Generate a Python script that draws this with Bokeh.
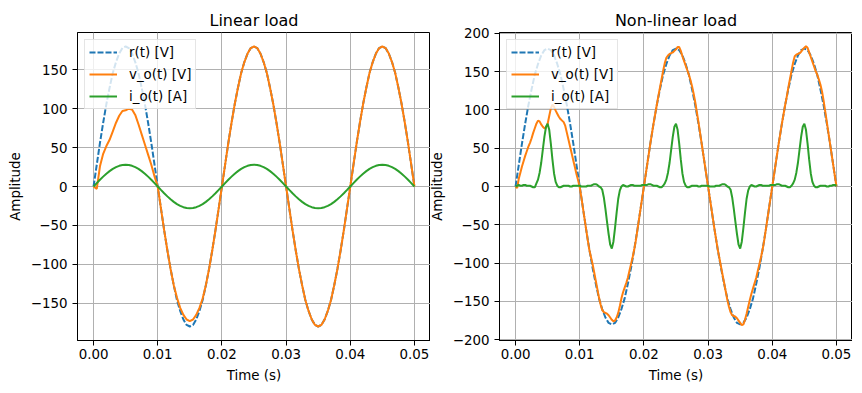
import numpy as np
from bokeh.plotting import figure
from bokeh.layouts import row
from bokeh.models import Range1d, FixedTicker
from bokeh.embed import file_html
from bokeh.resources import INLINE

# ---------------- data ----------------
t_coarse = np.linspace(0, 0.05, 101)   # sample grid, 0.5 ms
t_fine = np.linspace(0, 0.05, 201)     # sample grid, 0.25 ms

r_ref = [0, 28, 56, 82, 106, 127, 146, 160, 171, 178,
         180, 178, 171, 160, 146, 127, 106, 82, 56, 28,
         0, -28, -56, -82, -106, -127, -146, -160, -171, -178,
         -180, -178, -171, -160, -146, -127, -106, -82, -56, -28,
         0, 28, 56, 82, 106, 127, 146, 160, 171, 178,
         180, 178, 171, 160, 146, 127, 106, 82, 56, 28,
         0, -28, -56, -82, -106, -127, -146, -160, -171, -178,
         -180, -178, -171, -160, -146, -127, -106, -82, -56, -28,
         0, 28, 56, 82, 106, 127, 146, 160, 171, 178,
         180, 178, 171, 160, 146, 127, 106, 82, 56, 28,
         0]

vo_lin = [0, -3, 26, 42, 52, 60, 71, 82, 91, 97,
          98, 100, 99, 92, 80, 67, 54, 41, 28, 13,
          0, -28, -56, -82, -106, -127, -143, -156, -165, -171,
          -173, -171, -165, -156, -144, -127, -106, -82, -56, -28,
          0, 28, 56, 82, 106, 127, 146, 160, 171, 178,
          180, 178, 171, 160, 146, 127, 106, 82, 56, 28,
          0, -28, -56, -82, -106, -127, -146, -160, -171, -178,
          -180, -178, -171, -160, -146, -127, -106, -82, -56, -28,
          0, 28, 56, 82, 106, 127, 146, 160, 171, 178,
          180, 178, 171, 160, 146, 127, 106, 82, 56, 28,
          0]

io_lin = [0, 4.4, 8.7, 12.7, 16.5, 19.8, 22.7, 24.9, 26.6, 27.7,
          28, 27.7, 26.6, 24.9, 22.7, 19.8, 16.5, 12.7, 8.7, 4.4,
          0, -4.4, -8.7, -12.7, -16.5, -19.8, -22.7, -24.9, -26.6, -27.7,
          -28, -27.7, -26.6, -24.9, -22.7, -19.8, -16.5, -12.7, -8.7, -4.4,
          0, 4.4, 8.7, 12.7, 16.5, 19.8, 22.7, 24.9, 26.6, 27.7,
          28, 27.7, 26.6, 24.9, 22.7, 19.8, 16.5, 12.7, 8.7, 4.4,
          0, -4.4, -8.7, -12.7, -16.5, -19.8, -22.7, -24.9, -26.6, -27.7,
          -28, -27.7, -26.6, -24.9, -22.7, -19.8, -16.5, -12.7, -8.7, -4.4,
          0, 4.4, 8.7, 12.7, 16.5, 19.8, 22.7, 24.9, 26.6, 27.7,
          28, 27.7, 26.6, 24.9, 22.7, 19.8, 16.5, 12.7, 8.7, 4.4,
          0]

vo_nl = [0, -2, 10, 18, 26, 33, 40, 46, 52, 57,
         63, 70, 76, 82, 86, 85, 81, 78, 76, 77,
         82, 92, 102, 107, 104, 99, 95, 91, 88, 86,
         84, 79, 70, 61, 52, 43, 34, 25, 16, 8,
         -1, -14, -28, -42, -56, -70, -83, -92, -101, -112,
         -123, -134, -145, -154, -161, -164, -165, -166, -168, -171,
         -174, -176, -175, -171, -165, -156, -146, -138, -132, -126,
         -119, -110, -101, -92, -82, -70, -56, -42, -28, -14,
         0, 14, 28, 42, 56, 69, 82, 94, 106, 118,
         129, 140, 151, 161, 168, 171, 173, 174, 175, 177,
         179, 182, 182, 177, 170, 164, 158, 152, 146, 139,
         131, 121, 110, 97, 84, 70, 56, 42, 28, 14,
         0, -14, -28, -42, -56, -69, -82, -93, -104, -115,
         -126, -137, -148, -157, -164, -168, -169, -170, -172, -175,
         -178, -181, -180, -174, -166, -157, -148, -140, -133, -126,
         -119, -110, -101, -92, -82, -70, -56, -42, -28, -14,
         0, 14, 28, 42, 56, 69, 82, 94, 106, 117,
         129, 140, 151, 162, 170, 172, 173, 174, 176, 179,
         181, 183, 181, 175, 169, 163, 157, 151, 146, 140,
         133, 124, 112, 98, 84, 70, 56, 42, 28, 14,
         0]

io_nl = [0, 1, 2, 1, 1, 2, 2, 1, 1, 1, 0, -1, -1,
         4, 9, 18, 31, 48, 65, 78, 82, 74, 56, 35, 17, 6, 1, -1,
         -1, 0, 1, 1, 1, 1, 0, 0, 1, 1, 1, 1, 1, 0, 0, 0, 0, 1, 1, 1, 2, 3, 3, 2, 0, -1,
         -4, -14, -29, -46, -62, -76, -81, -72, -54, -34, -16, -5, 0,
         2, 1, 0, 0, 1, 2, 2, 1, 1, 1, 1, 1, 2, 2, 2, 2, 3, 3, 2, 1, 1, 1, 0, -1, -1, 1,
         4, 9, 18, 31, 48, 65, 78, 82, 74, 56, 35, 17, 6, 1, -1,
         -1, 0, 1, 1, 1, 1, 0, 0, 1, 1, 1, 1, 1, 0, 0, 0, 0, 1, 1, 1, 2, 3, 3, 2, 0, -1,
         -4, -14, -29, -46, -62, -76, -81, -72, -54, -34, -16, -5, 0,
         2, 1, 0, 0, 1, 2, 2, 1, 1, 1, 1, 1, 2, 2, 2, 2, 3, 3, 2, 1, 1, 1, 0, -1, -1, 1,
         4, 9, 18, 31, 48, 65, 78, 82, 74, 56, 35, 17, 6, 1, -1,
         -1, 0, 1, 1, 1, 1, 0, 0, 1, 1, 2, 2, 1]

titles = ["Linear load", "Non-linear load"]
legend_labels = ["r(t) [V]", "v_o(t) [V]", "i_o(t) [A]"]
x_ticks = [0.0, 0.01, 0.02, 0.03, 0.04, 0.05]
x_tick_labels = ["0.00", "0.01", "0.02", "0.03", "0.04", "0.05"]
y_ticks_lin = [-150, -100, -50, 0, 50, 100, 150]
y_ticks_nl = [-200, -150, -100, -50, 0, 50, 100, 150, 200]
x_label = "Time (s)"
y_label = "Amplitude"

# ---------------- styling ----------------
FONT = "DejaVu Sans"
TICK_SIZE = "13.4px"
COLORS = ["#1f77b4", "#ff7f0e", "#2ca02c"]


def ylabel_text(v):
    return ("\u2212" + str(abs(v))) if v < 0 else str(v)


def make_fig(title, y_ticks, y_range, series, border_left, border_right):
    p = figure(frame_width=353, frame_height=308, output_backend="svg", toolbar_location=None,
               x_range=Range1d(-0.0025, 0.0525), y_range=Range1d(*y_range),
               min_border_left=border_left, min_border_right=border_right,
               min_border_top=32, min_border_bottom=10)
    p.title.text = title
    p.title.text_font = FONT
    p.title.text_font_size = "16px"
    p.title.text_font_style = "normal"
    p.title.text_color = "black"
    p.title.align = "center"
    p.title.standoff = 6

    p.outline_line_color = "black"
    p.outline_line_width = 1
    p.outline_line_alpha = 1
    p.background_fill_color = "white"
    p.border_fill_color = "white"

    p.xaxis.ticker = FixedTicker(ticks=x_ticks)
    p.xaxis.major_label_overrides = {tk: lb for tk, lb in zip(x_ticks, x_tick_labels)}
    p.yaxis.ticker = FixedTicker(ticks=y_ticks)
    p.yaxis.major_label_overrides = {v: ylabel_text(v) for v in y_ticks}
    p.xaxis.axis_label = x_label
    p.yaxis.axis_label = y_label
    for ax in (p.xaxis, p.yaxis):
        ax.axis_label_text_font = FONT
        ax.axis_label_text_font_size = TICK_SIZE
        ax.axis_label_text_font_style = "normal"
        ax.axis_label_text_color = "black"
        ax.major_label_text_font = FONT
        ax.major_label_text_font_size = TICK_SIZE
        ax.major_label_text_color = "black"
        ax.major_tick_out = 5
        ax.major_tick_in = 0
        ax.minor_tick_out = 0
        ax.minor_tick_in = 0
        ax.major_tick_line_color = "black"
        ax.axis_line_color = "black"
    p.xaxis.major_label_standoff = 3
    p.xaxis.axis_label_standoff = 6
    p.yaxis.major_label_standoff = 5
    p.yaxis.axis_label_standoff = 5

    p.grid.grid_line_color = "#b0b0b0"
    p.grid.grid_line_width = 1
    p.xgrid.ticker = FixedTicker(ticks=x_ticks)
    p.ygrid.ticker = FixedTicker(ticks=y_ticks)

    (tr, r_vals), (tv, v_vals), (ti, i_vals) = series
    p.line(tr, r_vals, color=COLORS[0], line_width=2, line_dash="6 2",
           legend_label=legend_labels[0])
    p.line(tv, v_vals, color=COLORS[1], line_width=2, legend_label=legend_labels[1])
    p.line(ti, i_vals, color=COLORS[2], line_width=2, legend_label=legend_labels[2])

    lg = p.legend[0]
    lg.location = "top_left"
    lg.margin = 7
    lg.padding = 4
    lg.spacing = 6
    lg.label_height = 16
    lg.glyph_height = 16
    lg.glyph_width = 28
    lg.label_standoff = 12
    lg.label_text_font = FONT
    lg.label_text_font_size = TICK_SIZE
    lg.label_text_color = "black"
    lg.border_line_color = "#cccccc"
    lg.border_line_width = 1
    lg.background_fill_color = "white"
    lg.background_fill_alpha = 0.8
    return p


p1 = make_fig(titles[0], y_ticks_lin, (-198, 198),
              [(t_coarse, r_ref), (t_coarse, vo_lin), (t_coarse, io_lin)],
              border_left=77, border_right=0)
p2 = make_fig(titles[1], y_ticks_nl, (-201, 201),
              [(t_coarse, r_ref), (t_fine, vo_nl), (t_fine, io_nl)],
              border_left=70, border_right=0)
# let the second panel's (transparent) left border overlap the first by 4px
p2.border_fill_alpha = 0
p2.styles = {"margin-left": "-4px"}

layout = row(p1, p2)
open("out.html", "w").write(file_html(layout, INLINE))
